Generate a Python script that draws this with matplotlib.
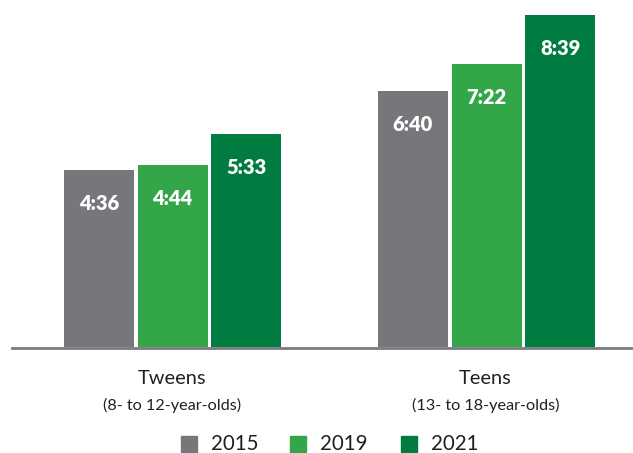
import matplotlib
matplotlib.use("Agg")
import matplotlib.pyplot as plt
from matplotlib.patches import Rectangle

plt.rcParams['font.family'] = ['Lato', 'DejaVu Sans']

groups = ["Tweens", "Teens"]
subtitles = ["(8- to 12-year-olds)", "(13- to 18-year-olds)"]
years = ["2015", "2019", "2021"]
labels = {
    "2015": ["4:36", "6:40"],
    "2019": ["4:44", "7:22"],
    "2021": ["5:33", "8:39"],
}
colors = {"2015": "#76777a", "2019": "#34a64a", "2021": "#007c41"}


def to_minutes(s):
    h, m = s.split(":")
    return int(h) * 60 + int(m)


W, H = 633, 453
fig = plt.figure(figsize=(W / 100, H / 100), dpi=100)
base_px = 347
ax = fig.add_axes([0, (H - base_px) / H, 1, base_px / H])
ax.set_ylim(0, base_px / 0.6395)
ax.set_xlim(-172.5 / 314, -172.5 / 314 + W / 314)
ax.axis("off")

bw = 70 / 314
step = 73.7 / 314
for j, y in enumerate(years):
    vals = [to_minutes(s) for s in labels[y]]
    xs = [i + (j - 1) * step for i in range(len(groups))]
    ax.bar(xs, vals, width=bw, color=colors[y], zorder=2)
    for x, v, s in zip(xs, vals, labels[y]):
        ax.text(x, v - 33 / 0.6395, s, ha="center", va="center",
                color="white", fontsize=14.5, fontweight="heavy", zorder=3)

# baseline
fig.add_artist(plt.Line2D([12 / W, 1], [(H - 347.5) / H] * 2,
                          color="#7a7b7e", lw=2))

for i, (g, s) in enumerate(zip(groups, subtitles)):
    xc = (172.5 + i * 313) / W
    fig.text(xc, 1 - 378.5 / H, g, ha="center", va="center",
             fontsize=14.4, color="#231f20")
    fig.text(xc, 1 - 405 / H, s, ha="center", va="center",
             fontsize=11.7, color="#231f20")

# legend
sq_x = [181, 290, 401]
for k, y in enumerate(years):
    fig.add_artist(Rectangle((sq_x[k] / W, 1 - 452 / H), 16 / W, 16 / H,
                             transform=fig.transFigure, color=colors[y]))
    fig.text((sq_x[k] + 30) / W, 1 - 443.5 / H, y, ha="left", va="center",
             fontsize=14.8, color="#231f20")

fig.savefig("out.png", dpi=100)
